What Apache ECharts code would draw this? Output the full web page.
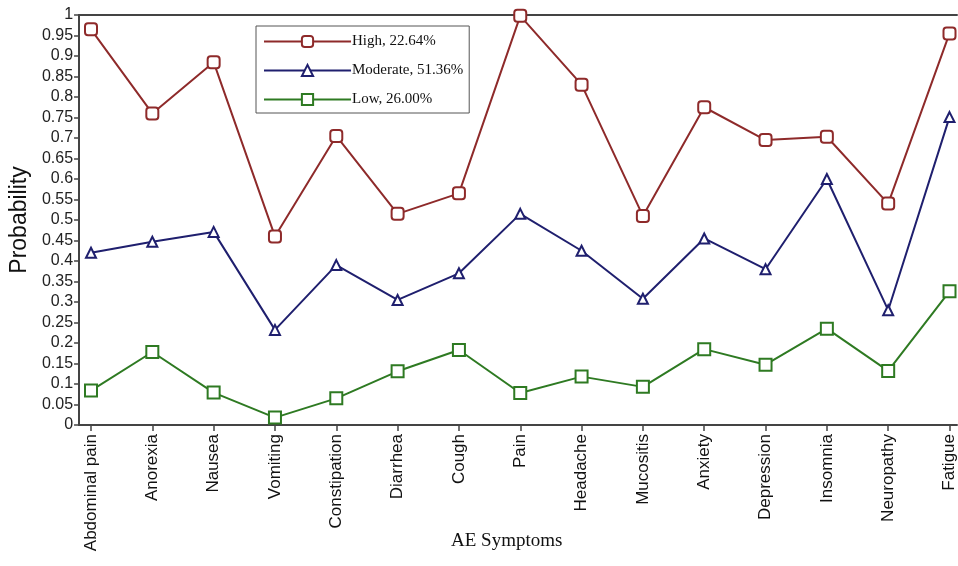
<!DOCTYPE html>
<html>
<head>
<meta charset="utf-8">
<script src="https://cdn.jsdelivr.net/npm/echarts@6/dist/echarts.min.js"></script>
<style>
  html, body { margin: 0; padding: 0; background: #fff; }
  #chart { width: 958px; height: 566px; }
</style>
</head>
<body>
<div id="chart"></div>
<script>
var symptoms = ['Abdominal pain', 'Anorexia', 'Nausea', 'Vomiting', 'Constipation', 'Diarrhea', 'Cough',
    'Pain', 'Headache', 'Mucositis', 'Anxiety', 'Depression', 'Insomnia', 'Neuropathy', 'Fatigue'];
var highVals = [0.965, 0.76, 0.885, 0.46, 0.705, 0.515, 0.565, 0.998, 0.83, 0.51, 0.775, 0.695, 0.703, 0.54, 0.955];
var moderateVals = [0.42, 0.447, 0.471, 0.232, 0.39, 0.305, 0.37, 0.515, 0.425, 0.308, 0.455, 0.38, 0.6, 0.28, 0.751];
var lowVals = [0.084, 0.178, 0.079, 0.018, 0.065, 0.131, 0.183, 0.078, 0.118, 0.093, 0.185, 0.147, 0.235, 0.132, 0.326];
var seriesNames = ['High, 22.64%', 'Moderate, 51.36%', 'Low, 26.00%'];

var chart = echarts.init(document.getElementById('chart'));

function makeSeries(name, data, color, symbol, size) {
    return {
        name: name,
        type: 'line',
        xAxisIndex: 2,
        yAxisIndex: 1,
        data: data,
        symbol: symbol,
        symbolSize: size,
        showAllSymbol: true,
        lineStyle: { color: color, width: 2 },
        itemStyle: { color: '#fff', borderColor: color, borderWidth: 2 },
        emphasis: { disabled: true },
        z: 3
    };
}

var option = {
    animation: false,
    backgroundColor: '#fff',
    textStyle: { fontFamily: 'Liberation Sans, Arial, sans-serif' },
    grid: [
        { left: 77, right: 1, top: 15, bottom: 141 },  // frame
        { left: 91, right: 8, top: 15, bottom: 141 }   // data
    ],
    xAxis: [
        {
            type: 'value', gridIndex: 0, min: 0, max: 1, position: 'bottom',
            axisLine: { show: true, lineStyle: { color: '#444', width: 2 } },
            axisTick: { show: false }, axisLabel: { show: false }, splitLine: { show: false }
        },
        {
            type: 'value', gridIndex: 0, min: 0, max: 1, position: 'top',
            axisLine: { show: true, lineStyle: { color: '#444', width: 2 } },
            axisTick: { show: false }, axisLabel: { show: false }, splitLine: { show: false }
        },
        {
            type: 'category', gridIndex: 1, data: symptoms, boundaryGap: false,
            axisLine: { show: false },
            axisTick: { show: true, length: 6, lineStyle: { color: '#444', width: 1.5 } },
            axisLabel: { rotate: 90, interval: 0, color: '#111', fontSize: 17, margin: 9 },
            splitLine: { show: false }
        }
    ],
    yAxis: [
        {
            type: 'value', gridIndex: 0, min: 0, max: 1, interval: 0.05,
            name: 'Probability', nameLocation: 'middle', nameGap: 48,
            nameTextStyle: { fontSize: 23, color: '#111' },
            axisLine: { show: true, lineStyle: { color: '#444', width: 2 } },
            axisTick: { show: true, inside: false, length: 5, lineStyle: { color: '#444', width: 1.5 } },
            axisLabel: { color: '#222', fontSize: 16, margin: 6 },
            splitLine: { show: false }
        },
        {
            type: 'value', gridIndex: 1, min: 0, max: 1, show: false
        }
    ],
    legend: {
        orient: 'vertical',
        left: 256,
        top: 26,
        itemWidth: 87,
        itemHeight: 14,
        itemGap: 14,
        padding: [8, 6, 6, 7],
        borderColor: '#555',
        borderWidth: 1,
        backgroundColor: '#fff',
        textStyle: { fontFamily: 'Liberation Serif, Times New Roman, serif', fontSize: 15, color: '#111', padding: [0, 0, 0, -4] },
        data: seriesNames
    },
    graphic: [
        {
            type: 'text', left: 451, top: 532,
            style: { text: 'AE Symptoms', font: '19px "Liberation Serif", "Times New Roman", serif', fill: '#111' }
        }
    ],
    series: [
        makeSeries(seriesNames[0], highVals, '#8e2a2a', 'roundRect', 12),
        makeSeries(seriesNames[1], moderateVals, '#1f1f6e', 'triangle', 10),
        makeSeries(seriesNames[2], lowVals, '#2e7a22', 'rect', 12)
    ]
};

chart.setOption(option);
</script>
</body>
</html>
